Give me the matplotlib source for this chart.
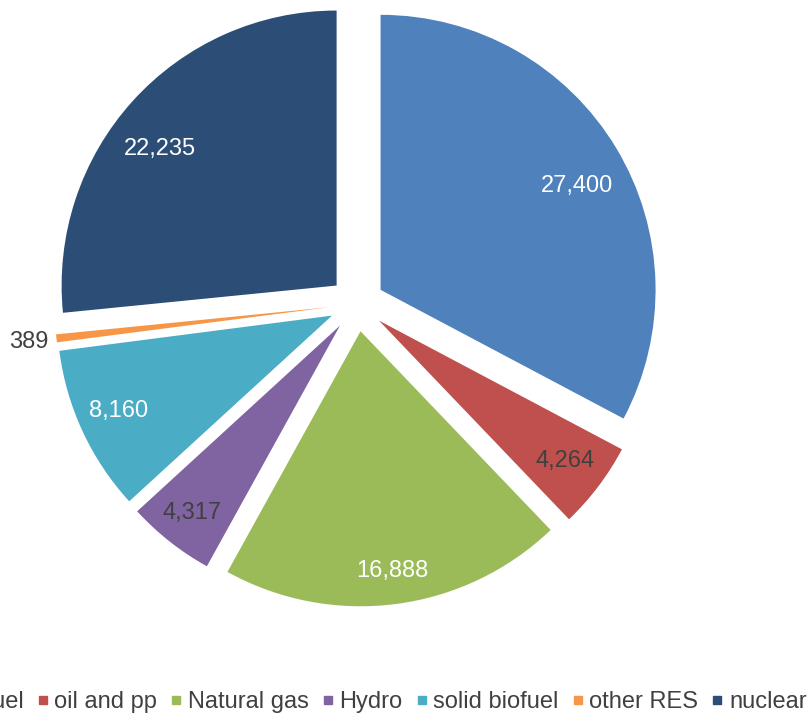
import matplotlib.pyplot as plt
from matplotlib.lines import Line2D
from matplotlib.transforms import offset_copy

plt.rcParams['font.family'] = ['Liberation Sans', 'DejaVu Sans']

categories = ['solid fuel', 'oil and pp', 'Natural gas', 'Hydro', 'solid biofuel', 'other RES', 'nuclear']
values = [27400, 4264, 16888, 4317, 8160, 389, 22235]
colors = ['#4F81BD', '#C0504D', '#9BBB59', '#8064A2', '#4BACC6', '#F79646', '#2C4D75']
label_colors = ['white', '#404040', 'white', '#404040', 'white', '#404040', 'white']
# small nudges (px) so labels sit where the original placed them
label_nudge = [(-1, -15), (2, -1), (2, -11), (-5, -6), (-4, 2), (8, 0), (-5, -18)]

fig = plt.figure(figsize=(8.11, 7.15), dpi=100)
ax = fig.add_axes([0, 0, 1, 1])

wedges, texts = ax.pie(values, colors=colors, startangle=90, counterclock=False,
                       explode=[0.1] * len(values),
                       labels=[f'{v:,}' for v in values], labeldistance=0.84,
                       textprops={'fontsize': 17})
for t, c in zip(texts, label_colors):
    t.set_color(c)
    t.set_horizontalalignment('center')
    t.set_verticalalignment('center')

# the tiny slice gets its label outside
x, y = texts[5].get_position()
texts[5].set_position((x / 0.84 * 1.10, y / 0.84 * 1.10))

for t, (dx, dy) in zip(texts, label_nudge):
    t.set_transform(offset_copy(ax.transData, fig=fig, x=dx, y=dy, units='dots'))

# keep 275 px per unit, pie centre at (357, 304) px from top-left
r = 275.0
ax.set_aspect('auto')
ax.set_xlim(-357 / r, (811 - 357) / r)
ax.set_ylim(-(715 - 304) / r, 304 / r)
ax.axis('off')

handles = [Line2D([], [], marker='s', linestyle='', color=c, markersize=5.5) for c in colors]
fig.legend(handles, categories, loc='center', bbox_to_anchor=(0.444, 0.018),
           ncol=len(categories), frameon=False, fontsize=17,
           handlelength=0.4, handletextpad=0.3, columnspacing=0.6, labelcolor='#404040')

fig.savefig('out.png', dpi=100)
